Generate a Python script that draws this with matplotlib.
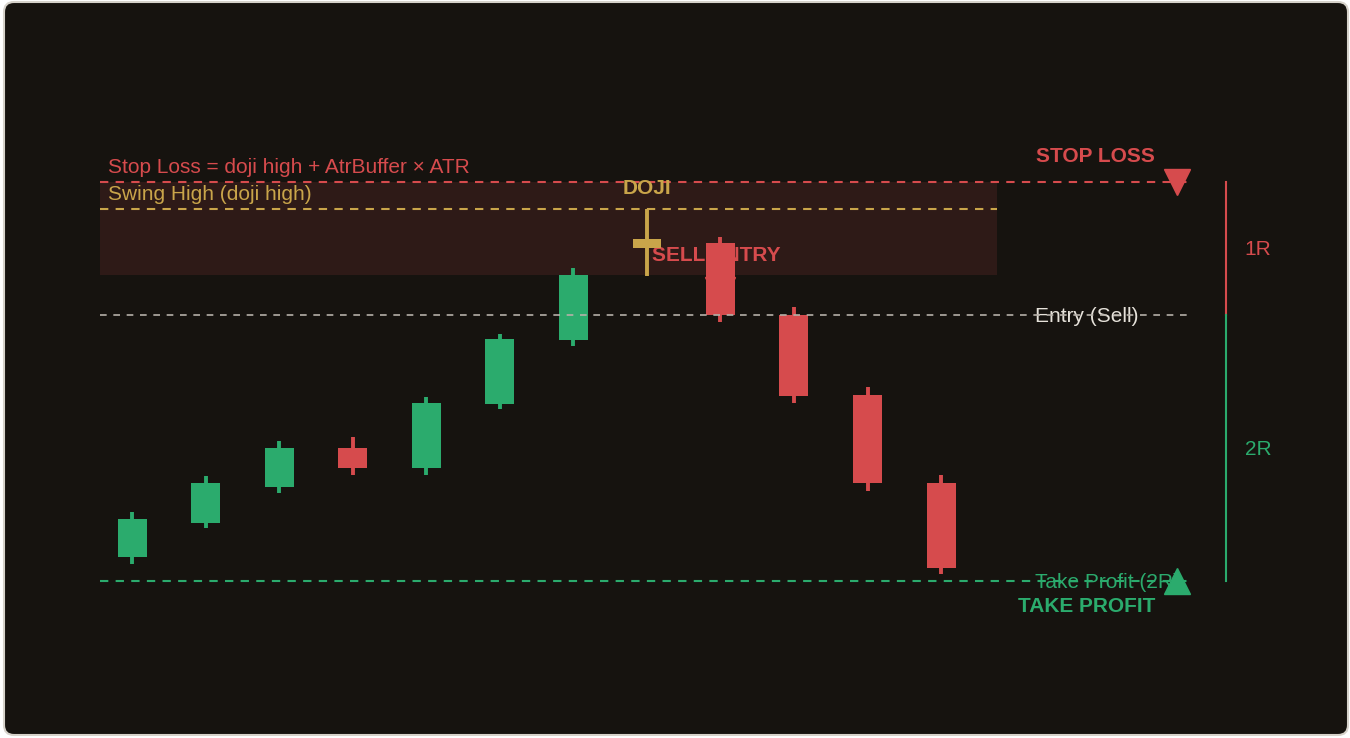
import matplotlib
matplotlib.use('Agg')
import matplotlib.pyplot as plt
from matplotlib.patches import FancyBboxPatch
from matplotlib.transforms import IdentityTransform

plt.rcParams['font.family'] = ['Liberation Sans', 'DejaVu Sans']

# candles (price units, 1R = 10)
opens = [81.8, 84.4, 87.1, 90.0, 88.5, 93.3, 98.1, 105.4, 105.4, 100.0, 94.0, 87.4]
closes = [84.7, 87.4, 90.0, 88.5, 93.4, 98.2, 103.0, 105.4, 100.0, 93.9, 87.4, 81.0]
highs = [85.2, 87.9, 90.5, 90.8, 93.8, 98.6, 103.5, 108.0, 105.9, 100.6, 94.6, 88.0]
lows = [81.3, 84.0, 86.6, 88.0, 88.0, 92.9, 97.7, 102.9, 99.5, 93.4, 86.8, 80.5]
doji_idx = 7
sell_idx = 8

swing_high = 108.0
stop_loss = 110.0
entry = 100.0
take_profit = 80.0
zone_bottom = 103.0

BG = '#16130f'
GREEN = '#2bab6d'
RED = '#d64b4d'
GOLD = '#c9a54a'
GREY = '#b5b0a8'
LIGHT = '#e6e2da'
FS = 15

fig = plt.figure(figsize=(13.5, 7.38), dpi=100, facecolor='white')
card = FancyBboxPatch((4, 3), 1344, 733, boxstyle='round,pad=0,rounding_size=10',
                      fc=BG, ec='#d6d2ca', lw=1.5, transform=IdentityTransform(), zorder=-5)
fig.patches.append(card)

ax = fig.add_axes([0, 0, 1, 1])
ax.set_facecolor('none')
ax.set_xlim(-1.795, 16.56)
ax.set_ylim(68.2, 123.68)
ax.axis('off')

x_left = -0.435
x_right = 14.36
zone_right = 11.76

# risk zone
ax.fill_between([x_left, zone_right], zone_bottom, stop_loss, color=RED, alpha=0.13, lw=0, zorder=1)

# level lines
ax.plot([x_left, x_right], [stop_loss] * 2, color=RED, lw=1.5, dashes=(4, 3.5), zorder=2)
ax.plot([x_left, zone_right], [swing_high] * 2, color=GOLD, lw=1.5, dashes=(4, 3.5), zorder=2)
ax.plot([x_left, x_right], [entry] * 2, color=GREY, lw=1.2, dashes=(4, 4), zorder=4)
ax.plot([x_left, x_right], [take_profit] * 2, color=GREEN, lw=1.5, dashes=(4, 3.5), zorder=2)

# sell marker (mostly hidden behind candle)
ax.plot(sell_idx, 101.7, marker='v', ms=22, color=RED, zorder=2)

# candles
for i in range(len(opens)):
    o, c, h, l = opens[i], closes[i], highs[i], lows[i]
    if i == doji_idx:
        ax.vlines(i, l, h, color=GOLD, lw=2.8, zorder=3)
        ax.bar(i, 0.68, bottom=o - 0.34, width=0.39, color=GOLD, zorder=3)
        continue
    col = GREEN if c >= o else RED
    ax.vlines(i, l, h, color=col, lw=2.8, zorder=3)
    ax.bar(i, abs(c - o), bottom=min(o, c), width=0.394, color=col, zorder=3)

# risk ruler
ax.plot([14.87, 14.87], [entry, stop_loss], color=RED, lw=1.5, zorder=2)
ax.plot([14.87, 14.87], [take_profit, entry], color=GREEN, lw=1.5, zorder=2)
ax.text(15.13, (entry + stop_loss) / 2 - 0.1, '1R', color=RED, fontsize=FS, va='center')
ax.text(15.13, (entry + take_profit) / 2 - 0.1, '2R', color=GREEN, fontsize=FS, va='center')

# end markers
ax.plot(14.21, stop_loss, marker='v', ms=19, color=RED, zorder=5)
ax.plot(14.21, take_profit, marker='^', ms=19, color=GREEN, zorder=5)

# labels
ax.text(-0.326, 111.1, 'Stop Loss = doji high + AtrBuffer \u00d7 ATR', color=RED, fontsize=FS, va='center')
ax.text(-0.326, 109.05, 'Swing High (doji high)', color=GOLD, fontsize=FS, va='center')
ax.text(doji_idx, 109.5, 'DOJI', color=GOLD, fontsize=FS, fontweight='bold', ha='center', va='center')
ax.text(7.07, 104.5, 'SELL ENTRY', color=RED, fontsize=FS, fontweight='bold', va='center', zorder=2.5)
ax.text(13.91, 111.9, 'STOP LOSS', color=RED, fontsize=FS, fontweight='bold', ha='right', va='center')
ax.text(12.28, entry - 0.15, 'Entry (Sell)', color=LIGHT, fontsize=FS, va='center', zorder=3.5)
ax.text(12.28, take_profit - 0.1, 'Take Profit (2R)', color=GREEN, fontsize=FS, va='center', zorder=3.5)
ax.text(13.91, 78.05, 'TAKE PROFIT', color=GREEN, fontsize=FS, fontweight='bold', ha='right', va='center')

fig.savefig('out.png', dpi=100, facecolor=fig.get_facecolor())
